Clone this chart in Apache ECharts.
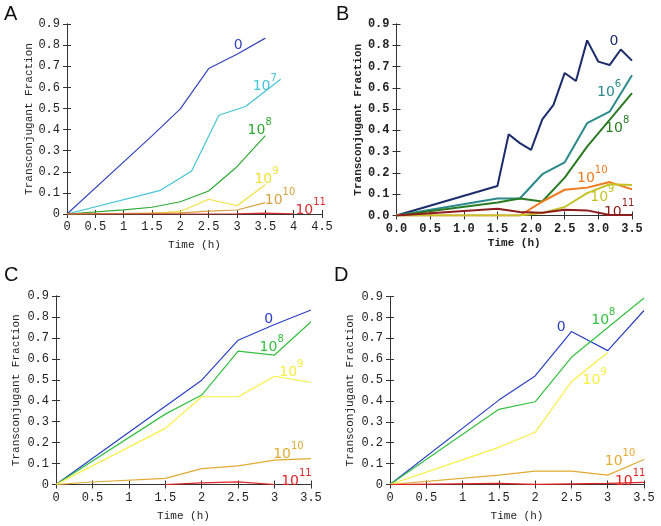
<!DOCTYPE html>
<html>
<head>
<meta charset="utf-8">
<script src="https://cdn.jsdelivr.net/npm/echarts@6/dist/echarts.min.js"></script>
<style>
  html, body { margin: 0; padding: 0; background: #fff; }
  #chart { width: 661px; height: 526px; }
</style>
</head>
<body>
<div id="chart"></div>
<script>
// tick labels
const xTicksA = ['0', '0.5', '1', '1.5', '2', '2.5', '3', '3.5', '4', '4.5'];
const xTicksB = ['0.0', '0.5', '1.0', '1.5', '2.0', '2.5', '3.0', '3.5'];
const xTicksCD = ['0', '0.5', '1', '1.5', '2', '2.5', '3', '3.5'];
const yTicks = ['0', '0.1', '0.2', '0.3', '0.4', '0.5', '0.6', '0.7', '0.8', '0.9'];
const yTicksB = ['0.0', '0.1', '0.2', '0.3', '0.4', '0.5', '0.6', '0.7', '0.8', '0.9'];

// series names (donor density labels): base, exponent
const labelNamesA = [['0', ''], ['10', '7'], ['10', '8'], ['10', '9'], ['10', '10'], ['10', '11']];
const labelNamesB = [['0', ''], ['10', '6'], ['10', '8'], ['10', '10'], ['10', '9'], ['10', '11']];
const labelNamesCD = [['0', ''], ['10', '8'], ['10', '9'], ['10', '10'], ['10', '11']];

// Panel A
const aTime0 = [0, 1.5, 2, 2.5, 3, 3.5];
const aFrac0 = [0, 0.37, 0.498, 0.689, 0.757, 0.833];
const aTime7 = [0, 1.65, 2.2, 2.68, 3.15, 3.77];
const aFrac7 = [0, 0.112, 0.204, 0.468, 0.509, 0.638];
const aTime8 = [0, 1, 1.5, 2, 2.5, 3, 3.5];
const aFrac8 = [0, 0.02, 0.032, 0.058, 0.109, 0.224, 0.371];
const aTime9 = [0, 1.5, 2, 2.5, 3, 3.5];
const aFrac9 = [0, 0.003, 0.012, 0.07, 0.039, 0.139];
const aTime10 = [0, 2, 2.5, 3, 3.5];
const aFrac10 = [0, 0.005, 0.014, 0.019, 0.054];
const aTime11 = [0, 3, 3.5, 4];
const aFrac11 = [0, 0.001, 0.004, 0.001];

// Panel B (10 min sampling)
const bTime0 = [0, 1.5, 1.667, 1.833, 2, 2.167, 2.333, 2.5, 2.667, 2.833, 3, 3.167, 3.333, 3.5];
const bFrac0 = [0, 0.139, 0.382, 0.34, 0.308, 0.452, 0.52, 0.67, 0.632, 0.823, 0.723, 0.707, 0.78, 0.728];
const bTime6 = [0, 1.5, 1.833, 2.167, 2.5, 2.833, 3.167, 3.5];
const bFrac6 = [0, 0.08, 0.08, 0.194, 0.25, 0.434, 0.488, 0.659];
const bTime8 = [0, 1.5, 1.833, 2.167, 2.5, 2.833, 3.167, 3.5];
const bFrac8 = [0, 0.061, 0.08, 0.066, 0.178, 0.324, 0.449, 0.575];
const bTime10 = [0, 1.833, 2.167, 2.5, 2.833, 3.167, 3.5];
const bFrac10 = [0, 0, 0.065, 0.121, 0.131, 0.157, 0.123];
const bTime9 = [0, 1.833, 2.167, 2.5, 2.833, 3.167, 3.5];
const bFrac9 = [0, 0, 0.012, 0.04, 0.105, 0.147, 0.143];
const bTime11 = [0, 1.5, 1.833, 2.167, 2.5, 2.833, 3.167, 3.5];
const bFrac11 = [0, 0.032, 0.016, 0.013, 0.027, 0.024, 0.002, 0.002];

// Panel C
const cTime0 = [0, 1.5, 2, 2.5, 3, 3.5];
const cFrac0 = [0, 0.374, 0.498, 0.689, 0.764, 0.833];
const cTime8 = [0, 1.5, 2, 2.5, 3, 3.5];
const cFrac8 = [0, 0.336, 0.427, 0.637, 0.618, 0.777];
const cTime9 = [0, 1.5, 2, 2.5, 3, 3.5];
const cFrac9 = [0, 0.268, 0.419, 0.419, 0.517, 0.487];
const cTime10 = [0, 0.5, 1.5, 2, 2.5, 3, 3.5];
const cFrac10 = [0, 0.012, 0.029, 0.076, 0.089, 0.116, 0.124];
const cTime11 = [1.5, 2, 2.5, 3];
const cFrac11 = [0, 0.008, 0.013, 0];

// Panel D
const dTime0 = [0, 1.5, 2, 2.5, 3, 3.5];
const dFrac0 = [0, 0.404, 0.52, 0.732, 0.641, 0.833];
const dTime8 = [0, 1.5, 2, 2.5, 3.5];
const dFrac8 = [0, 0.36, 0.396, 0.609, 0.893];
const dTime9 = [0, 1.5, 2, 2.5, 3];
const dFrac9 = [0, 0.178, 0.25, 0.492, 0.632];
const dTime10 = [0, 1.5, 2, 2.5, 3, 3.5];
const dFrac10 = [0, 0.045, 0.064, 0.064, 0.045, 0.12];
const dTime11 = [0, 1.5, 2, 3, 3.5];
const dFrac11 = [0, 0.005, 0.001, 0.005, 0.01];

// where the in-plot series labels sit (data units)
const labelPosA = [[3.02, 0.81], [3.49, 0.62], [3.4, 0.41], [3.52, 0.18], [3.76, 0.08], [4.3, 0.032]];
const labelPosB = [[3.23, 0.828], [3.16, 0.594], [3.28, 0.422], [2.91, 0.187], [3.06, 0.101], [3.31, 0.031]];
const labelPosC = [[2.92, 0.8], [2.96, 0.67], [3.23, 0.55], [3.19, 0.157], [3.3, 0.028]];
const labelPosD = [[2.36, 0.76], [2.94, 0.801], [2.82, 0.513], [3.17, 0.125], [3.31, 0.029]];

const colorsA = ['#3646bc', '#44c4d6', '#2eaa34', '#f2e23c', '#d6a040', '#dc2e2e'];
const colorsB = ['#1c2c6c', '#2a8a8c', '#2a7c24', '#f07a1c', '#c4c42a', '#8e1c1c'];
const colorsCD = ['#2a40c4', '#34c040', '#f8f040', '#e2aa32', '#e22424'];

const zip = (xs, ys) => xs.map((x, i) => [x, ys[i]]);

const mono = 'Liberation Mono';
const panels = [
  {
    grid: { left: 67, top: 24, width: 255, height: 190 },
    xMax: 4.5, xTicks: xTicksA, yTicks: yTicks, bold: false, nameGapY: 31, nameGapX: 26,
    lines: [zip(aTime0, aFrac0), zip(aTime7, aFrac7), zip(aTime8, aFrac8), zip(aTime9, aFrac9), zip(aTime10, aFrac10), zip(aTime11, aFrac11)],
    names: labelNamesA, pos: labelPosA, colors: colorsA, width: 1.2
  },
  {
    grid: { left: 396.5, top: 24, width: 235.5, height: 191.5 },
    xMax: 3.5, xTicks: xTicksB, yTicks: yTicksB, bold: true, nameGapY: 25, nameGapX: 22,
    lines: [zip(bTime0, bFrac0), zip(bTime6, bFrac6), zip(bTime8, bFrac8), zip(bTime10, bFrac10), zip(bTime9, bFrac9), zip(bTime11, bFrac11)],
    names: labelNamesB, pos: labelPosB, colors: colorsB, width: 2
  },
  {
    grid: { left: 56, top: 296, width: 255, height: 188.5 },
    xMax: 3.5, xTicks: xTicksCD, yTicks: yTicks, bold: false, nameGapY: 34, nameGapX: 26,
    lines: [zip(cTime0, cFrac0), zip(cTime8, cFrac8), zip(cTime9, cFrac9), zip(cTime10, cFrac10), zip(cTime11, cFrac11)],
    names: labelNamesCD, pos: labelPosC, colors: colorsCD, width: 1.2
  },
  {
    grid: { left: 390, top: 296.5, width: 254, height: 188 },
    xMax: 3.5, xTicks: xTicksCD, yTicks: yTicks, bold: false, nameGapY: 34, nameGapX: 26,
    lines: [zip(dTime0, dFrac0), zip(dTime8, dFrac8), zip(dTime9, dFrac9), zip(dTime10, dFrac10), zip(dTime11, dFrac11)],
    names: labelNamesCD, pos: labelPosD, colors: colorsCD, width: 1.2
  }
];

const grids = [], xAxes = [], yAxes = [], series = [];
const frameLine = { show: true, lineStyle: { color: '#333', width: 1 } };
const tick = { show: true, inside: true, length: 4, lineStyle: { color: '#333' } };

panels.forEach((p, gi) => {
  grids.push(p.grid);
  const weight = p.bold ? 'bold' : 'normal';
  const base = { type: 'value', gridIndex: gi, min: 0, splitLine: { show: false }, axisLine: frameLine, axisTick: tick };
  xAxes.push(Object.assign({}, base, {
    max: p.xMax, interval: 0.5, position: 'bottom',
    name: 'Time (h)', nameLocation: 'middle', nameGap: p.nameGapX,
    nameTextStyle: { fontFamily: mono, fontSize: 11, color: '#222', fontWeight: weight },
    axisLabel: { fontFamily: mono, fontSize: 12, color: '#222', fontWeight: weight, margin: 7,
      formatter: v => p.xTicks[Math.round(v / 0.5)] }
  }));
  xAxes.push(Object.assign({}, base, { max: p.xMax, interval: 0.5, position: 'top', axisLabel: { show: false } }));
  yAxes.push(Object.assign({}, base, {
    max: 0.9, interval: 0.1, position: 'left',
    name: 'Transconjugant Fraction', nameLocation: 'middle', nameGap: p.nameGapY, nameRotate: 90,
    nameTextStyle: { fontFamily: mono, fontSize: 11, color: '#222', fontWeight: weight },
    axisLabel: { fontFamily: mono, fontSize: 12, color: '#222', fontWeight: weight, margin: 7,
      formatter: v => p.yTicks[Math.round(v / 0.1)] }
  }));
  yAxes.push(Object.assign({}, base, { max: 0.9, interval: 0.1, position: 'right', axisLabel: { show: false } }));

  p.lines.forEach((pts, si) => {
    const nm = p.names[si];
    series.push({
      type: 'line',
      xAxisIndex: gi * 2,
      yAxisIndex: gi * 2,
      data: pts,
      showSymbol: false,
      symbol: 'none',
      silent: true,
      lineStyle: { color: p.colors[si], width: p.width },
      itemStyle: { color: p.colors[si] },
      markPoint: {
        symbol: 'circle', symbolSize: 2, silent: true,
        itemStyle: { color: 'rgba(0,0,0,0)' },
        label: {
          show: true, position: 'inside',
          formatter: nm[1] ? '{b|' + nm[0] + '}{s|' + nm[1] + '}' : '{b|' + nm[0] + '}',
          rich: {
            b: { fontFamily: 'DejaVu Sans', fontSize: 14, color: p.colors[si], lineHeight: nm[1] ? 20 : 18, verticalAlign: 'bottom' },
            s: { fontFamily: 'DejaVu Sans', fontSize: 10, color: p.colors[si], lineHeight: 10, verticalAlign: 'top' }
          }
        },
        data: [{ name: nm.join(''), coord: p.pos[si] }]
      }
    });
  });
});

const letter = (txt, x, y) => ({
  type: 'text', left: x, top: y,
  style: { text: txt, fontFamily: 'Liberation Sans', fontSize: 20, fill: '#111' }
});

const chart = echarts.init(document.getElementById('chart'));
chart.setOption({
  animation: false,
  backgroundColor: '#fff',
  grid: grids,
  xAxis: xAxes,
  yAxis: yAxes,
  series: series,
  graphic: [letter('A', 4, 4), letter('B', 336, 4), letter('C', 4, 265), letter('D', 334, 265)]
});
</script>
</body>
</html>
